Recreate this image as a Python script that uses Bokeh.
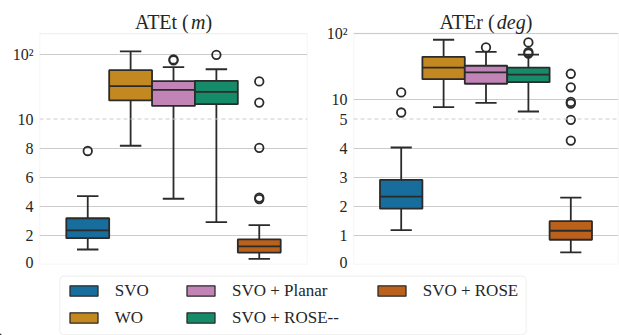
import numpy as np
from bokeh.plotting import figure
from bokeh.models import (FixedTicker, Span, Label, Legend, LegendItem,
                          BoxAnnotation, Range1d)
from bokeh.layouts import column, row
from bokeh.embed import file_html
from bokeh.resources import INLINE

# ---------------- data ----------------
series = ["SVO", "WO", "SVO + Planar", "SVO + ROSE--", "SVO + ROSE"]
colors = ["#176D9C", "#C38820", "#C283B6", "#158B6A", "#BA611B"]

# ATEt (m): lower whisker, Q1, median, Q3, upper whisker, outliers
atet_lo = [1.03, 8.16, 4.52, 2.91, 0.39]
atet_q1 = [1.81, 19.3, 15.9, 16.9, 0.82]
atet_med = [2.34, 32.0, 28.1, 26.2, 1.24]
atet_q3 = [3.18, 56.3, 38.2, 38.7, 1.72]
atet_hi = [4.70, 110.0, 62.7, 58.3, 2.70]
atet_out = [[7.8], [], [80.0, 82.4], [97.3], [4.5, 4.6, 8.02, 17.9, 37.8]]

# ATEr (deg)
ater_lo = [1.18, 7.56, 8.82, 6.50, 0.42]
ater_q1 = [1.92, 20.2, 17.2, 18.2, 0.85]
ater_med = [2.33, 30.3, 25.6, 23.6, 1.16]
ater_q3 = [2.91, 44.2, 32.3, 30.3, 1.49]
ater_hi = [4.02, 80.3, 52.6, 47.8, 2.30]
ater_out = [[6.28, 12.7], [], [61.4], [49.6, 52.1, 73.3],
            [4.26, 4.97, 8.6, 9.1, 15.2, 24.4]]

atet_ticks = [0, 2, 4, 6, 8, 10, 100]
atet_tick_labels = ["0", "2", "4", "6", "8", "10", "10²"]
ater_ticks = [0, 1, 2, 3, 4, 5, 10, 100]
ater_tick_labels = ["0", "1", "2", "3", "4", "5", "10", "10²"]

# ---------------- styling ----------------
FONT = "'Liberation Serif'"
TXT = "#262626"
LC = "#2b2b2b"
GRID = "#cccccc"
LW = 1.8
HUE_W = 0.16
FRAME_H = 264  # px from canvas top to y=0


def make_transform(brk, k):
    # linear below the break, log10 above it (broken axis)
    def t(v):
        v = np.asarray(v, dtype=float)
        return np.where(v <= brk, v, brk + k * np.log10(np.maximum(v, 1e-9) / brk))
    return t


def panel(lo, q1, med, q3, hi, outs, ticks, tick_labels, brk, k, px_per_unit,
          box_top, title_parts, mb_left, mb_right, fw):
    T = make_transform(brk, k)
    ymax = FRAME_H / px_per_unit
    p = figure(frame_width=fw, frame_height=FRAME_H, min_border_left=mb_left,
               min_border_right=mb_right, min_border_top=0, min_border_bottom=6,
               x_range=Range1d(-0.5, 0.5), y_range=Range1d(0, ymax),
               x_axis_location=None, toolbar_location=None,
               output_backend="svg", title=None)
    p.outline_line_color = None
    p.background_fill_color = "white"
    p.border_fill_color = "white"

    tpos = [float(T(v)) for v in ticks]
    ax = p.yaxis[0]
    ax.ticker = FixedTicker(ticks=tpos)
    ax.major_label_overrides = {tp: lab for tp, lab in zip(tpos, tick_labels)}
    ax.axis_line_color = None
    ax.major_tick_line_color = None
    ax.minor_tick_line_color = None
    ax.major_tick_out = 0
    ax.major_label_standoff = 6
    ax.major_label_text_font = FONT
    ax.major_label_text_font_size = "16px"
    ax.major_label_text_color = TXT

    p.ygrid.ticker = FixedTicker(ticks=[tp for tp, v in zip(tpos, ticks) if v != brk])
    p.ygrid.grid_line_color = GRID
    p.ygrid.grid_line_width = 1.1
    p.xgrid.visible = False
    p.add_layout(Span(location=brk, dimension="width", line_color=GRID,
                      line_width=1.2, line_dash="4 3"))
    # axes frame (box around the data area)
    p.add_layout(BoxAnnotation(left=-0.5, right=0.5, bottom=0, top=box_top,
                               fill_color=None, line_color=GRID, line_width=1.4,
                               level="underlay"))

    xs = np.array([(i - 2) * HUE_W for i in range(len(series))])
    lo_t, q1_t, med_t, q3_t, hi_t = (T(a) for a in (lo, q1, med, q3, hi))
    p.segment(x0=xs, y0=q3_t, x1=xs, y1=hi_t, line_color=LC, line_width=LW)
    p.segment(x0=xs, y0=q1_t, x1=xs, y1=lo_t, line_color=LC, line_width=LW)
    p.segment(x0=xs - HUE_W / 4, y0=hi_t, x1=xs + HUE_W / 4, y1=hi_t,
              line_color=LC, line_width=LW)
    p.segment(x0=xs - HUE_W / 4, y0=lo_t, x1=xs + HUE_W / 4, y1=lo_t,
              line_color=LC, line_width=LW)
    p.vbar(x=xs, width=HUE_W, bottom=q1_t, top=q3_t, fill_color=colors,
           line_color=LC, line_width=LW)
    p.segment(x0=xs - HUE_W / 2, y0=med_t, x1=xs + HUE_W / 2, y1=med_t,
              line_color=LC, line_width=LW)
    ox, oy = [], []
    for x, o in zip(xs, outs):
        for v in o:
            ox.append(x)
            oy.append(float(T(v)))
    p.scatter(x=ox, y=oy, marker="circle", size=8.5, fill_color=None,
              line_color=LC, line_width=1.8)

    # title with an italic unit
    total = sum(w for _, _, w in title_parts)
    off = -total / 2
    for txt, style, w in title_parts:
        p.add_layout(Label(x=0, y=box_top, x_offset=off, y_offset=11.6, text=txt,
                           text_font=FONT, text_font_size="20px",
                           text_font_style=style, text_color=TXT,
                           text_align="left", text_baseline="alphabetic"))
        off += w
    return p


p1 = panel(atet_lo, atet_q1, atet_med, atet_q3, atet_hi, atet_out,
           atet_ticks, atet_tick_labels, 10, 4.467, 14.55, 15.87,
           [("ATEt (", "normal", 56.1), ("m", "italic", 14.4), (")", "normal", 6.7)],
           39, 9, 268)
p2 = panel(ater_lo, ater_q1, ater_med, ater_q3, ater_hi, ater_out,
           ater_ticks, ater_tick_labels, 5, 2.258, 29.1, 7.938,
           [("ATEr (", "normal", 57.2), ("deg", "italic", 28.9), (")", "normal", 6.7)],
           37, 1, 265)

# ---------------- legend ----------------
lf = figure(width=619, height=65, x_range=Range1d(0, 619), y_range=Range1d(0, 65),
            min_border=0, x_axis_location=None, y_axis_location=None,
            toolbar_location=None, output_backend="svg", title=None)
lf.outline_line_color = None
lf.grid.visible = False
# legend swatches only (kept outside the visible range)
rends = [lf.vbar(x=[-1000], top=[1], bottom=[0], width=1, fill_color=c,
                 line_color=LC, line_width=1.3) for c in colors]
lf.add_layout(BoxAnnotation(left=59.3, right=525.7, bottom=1, top=59.3,
                            fill_color=None, line_color="#d0d0d0", line_width=1.2,
                            border_radius=4))


def col_legend(idx, loc):
    leg = Legend(items=[LegendItem(label=series[i], renderers=[rends[i]]) for i in idx],
                 location=loc, orientation="vertical", padding=0, margin=0,
                 spacing=7, glyph_width=35, glyph_height=13, label_height=20,
                 label_standoff=14, label_text_font=FONT,
                 label_text_font_size="17px", label_text_color=TXT,
                 border_line_color=None, background_fill_alpha=0)
    lf.add_layout(leg)


col_legend([0, 1], (65.7, 7.3))
col_legend([2, 3], (183, 7.3))
col_legend([4], (373.7, 34.3))

layout = column(row(p1, p2), lf)
open("out.html", "w").write(file_html(layout, INLINE))
